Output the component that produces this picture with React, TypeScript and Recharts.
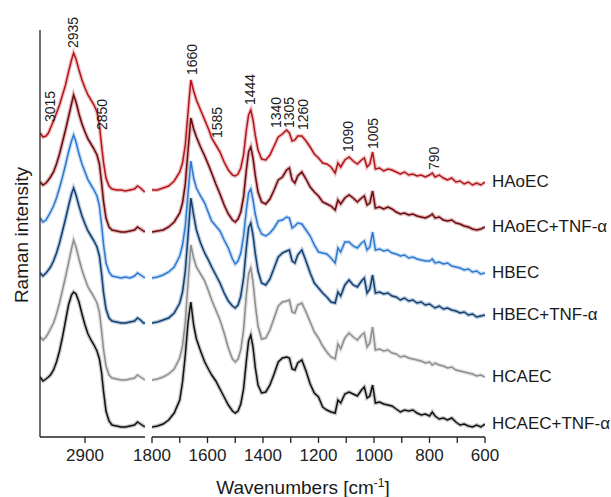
import React from 'react';
import { LineChart, Line, XAxis, YAxis, ReferenceDot } from 'recharts';

// wavenumbers [cm-1] for the two panels of the broken axis
const LEFT_WN = [3050, 3040, 3030, 3022, 3015, 3005, 2995, 2985, 2975, 2965, 2955, 2945, 2938, 2930, 2920, 2910, 2900, 2890, 2880, 2870, 2860, 2852, 2845, 2838, 2830, 2820, 2810, 2795, 2780, 2765, 2750, 2735, 2725, 2715, 2705, 2700];
const RIGHT_WN = [1800, 1780, 1760, 1740, 1720, 1700, 1690, 1680, 1670, 1660, 1650, 1640, 1625, 1610, 1595, 1585, 1570, 1555, 1540, 1525, 1510, 1500, 1490, 1480, 1470, 1460, 1452, 1444, 1436, 1428, 1418, 1405, 1390, 1375, 1360, 1345, 1330, 1315, 1305, 1295, 1285, 1275, 1260, 1245, 1230, 1215, 1200, 1185, 1170, 1155, 1140, 1130, 1120, 1105, 1090, 1075, 1060, 1045, 1035, 1025, 1015, 1005, 995, 980, 965, 950, 935, 920, 905, 890, 875, 860, 845, 830, 815, 800, 790, 780, 765, 750, 735, 720, 705, 690, 675, 660, 645, 630, 615, 600];

const SERIES_NAMES = ['HAoEC', 'HAoEC+TNF-α', 'HBEC', 'HBEC+TNF-α', 'HCAEC', 'HCAEC+TNF-α'];

// stacked intensities (a.u.)
const HAOEC_LEFT = [304, 300, 301, 304, 309, 316, 324, 332, 342, 352, 365, 377, 384, 378, 367, 357, 349, 342, 337, 332, 325, 312, 292, 274, 259, 251, 248, 247, 247, 246, 247, 248, 251, 249, 246, 245];
const HAOEC_TNF_LEFT = [255, 252, 254, 257, 260, 265, 273, 283, 295, 307, 320, 333, 342, 335, 323, 313, 305, 298, 293, 288, 282, 273, 255, 235, 219, 210, 207, 206, 205, 205, 206, 207, 210, 208, 206, 205];
const HBEC_LEFT = [219, 215, 217, 221, 225, 231, 239, 249, 260, 272, 285, 296, 302, 295, 283, 273, 265, 257, 252, 247, 241, 231, 213, 192, 174, 165, 161, 160, 159, 160, 159, 161, 164, 162, 160, 159];
const HBEC_TNF_LEFT = [164, 161, 164, 167, 170, 176, 184, 194, 206, 218, 231, 243, 249, 242, 231, 221, 213, 206, 201, 196, 190, 181, 164, 144, 128, 119, 116, 115, 114, 114, 115, 116, 119, 117, 114, 114];
const HCAEC_LEFT = [100, 97, 100, 104, 108, 114, 123, 134, 147, 160, 174, 188, 197, 190, 178, 167, 158, 150, 145, 140, 134, 125, 107, 87, 71, 62, 59, 58, 57, 57, 58, 59, 62, 60, 58, 57];
const HCAEC_TNF_LEFT = [60, 56, 58, 60, 62, 67, 75, 86, 100, 116, 132, 142, 145, 143, 135, 123, 112, 103, 97, 92, 86, 78, 65, 45, 26, 16, 12, 11, 10, 10, 11, 12, 15, 13, 11, 10];

const HAOEC_RIGHT = [247, 247, 249, 251, 256, 265, 274, 292, 325, 357, 346, 337, 327, 317, 307, 299, 292, 285, 275, 267, 262, 261, 263, 269, 282, 307, 322, 327, 317, 302, 287, 278, 277, 282, 291, 300, 303, 307, 304, 296, 297, 301, 301, 296, 290, 283, 279, 274, 273, 270, 264, 274, 270, 277, 280, 276, 273, 277, 279, 270, 273, 285, 268, 269, 266, 268, 267, 265, 263, 265, 262, 263, 261, 262, 260, 262, 264, 260, 262, 259, 257, 259, 255, 256, 253, 255, 252, 254, 252, 255];
const HAOEC_TNF_RIGHT = [205, 206, 207, 210, 215, 224, 234, 253, 287, 319, 308, 300, 290, 281, 271, 264, 253, 243, 232, 223, 217, 215, 218, 225, 240, 267, 285, 290, 279, 262, 245, 235, 233, 238, 247, 257, 260, 267, 269, 257, 254, 261, 265, 258, 250, 245, 241, 235, 233, 231, 227, 237, 233, 239, 242, 239, 235, 239, 241, 232, 234, 246, 229, 230, 228, 230, 228, 225, 223, 224, 222, 223, 221, 220, 219, 221, 223, 219, 220, 217, 216, 217, 214, 213, 211, 210, 208, 207, 208, 210];
const HBEC_RIGHT = [159, 160, 162, 165, 170, 181, 192, 211, 244, 276, 259, 249, 241, 234, 223, 216, 211, 206, 197, 189, 178, 173, 176, 184, 201, 227, 244, 248, 237, 223, 211, 203, 201, 204, 209, 216, 217, 220, 219, 209, 211, 214, 213, 207, 201, 192, 185, 184, 183, 179, 174, 189, 185, 195, 195, 191, 189, 194, 196, 187, 190, 205, 187, 188, 186, 187, 184, 183, 181, 182, 179, 180, 178, 177, 176, 176, 178, 174, 175, 173, 174, 171, 170, 169, 167, 168, 165, 166, 163, 164];
const HBEC_TNF_RIGHT = [114, 115, 117, 119, 124, 134, 145, 166, 202, 239, 222, 207, 194, 184, 176, 170, 162, 154, 144, 136, 131, 129, 132, 141, 159, 189, 209, 214, 202, 184, 166, 154, 152, 158, 169, 180, 184, 186, 187, 176, 174, 182, 187, 176, 164, 154, 149, 144, 140, 135, 134, 145, 141, 152, 157, 152, 150, 156, 159, 144, 148, 162, 144, 145, 143, 144, 141, 140, 137, 139, 136, 137, 134, 135, 132, 133, 131, 129, 131, 128, 129, 127, 126, 124, 125, 122, 123, 120, 121, 122];
const HCAEC_RIGHT = [57, 58, 60, 63, 68, 79, 91, 115, 155, 192, 179, 170, 163, 156, 145, 137, 127, 117, 104, 89, 78, 75, 78, 87, 107, 142, 163, 169, 155, 133, 111, 98, 99, 107, 119, 131, 135, 136, 137, 125, 124, 132, 134, 125, 115, 105, 99, 91, 85, 80, 78, 93, 88, 99, 104, 100, 97, 102, 104, 90, 94, 110, 87, 88, 86, 87, 84, 83, 80, 81, 79, 78, 77, 76, 74, 75, 72, 74, 72, 71, 69, 70, 67, 66, 65, 64, 63, 61, 62, 60];
const HCAEC_TNF_RIGHT = [10, 11, 13, 17, 24, 37, 55, 82, 115, 135, 112, 98, 86, 75, 67, 62, 56, 48, 40, 32, 26, 24, 26, 33, 48, 76, 96, 102, 90, 70, 52, 44, 45, 52, 63, 75, 79, 80, 79, 68, 67, 74, 77, 66, 53, 44, 40, 30, 27, 25, 24, 37, 34, 43, 45, 43, 41, 47, 50, 39, 41, 52, 34, 35, 33, 32, 31, 28, 25, 27, 26, 27, 24, 22, 23, 21, 25, 21, 18, 19, 17, 19, 15, 12, 13, 11, 10, 12, 10, 13];

const LEFT_VALUES = [HAOEC_LEFT, HAOEC_TNF_LEFT, HBEC_LEFT, HBEC_TNF_LEFT, HCAEC_LEFT, HCAEC_TNF_LEFT];
const RIGHT_VALUES = [HAOEC_RIGHT, HAOEC_TNF_RIGHT, HBEC_RIGHT, HBEC_TNF_RIGHT, HCAEC_RIGHT, HCAEC_TNF_RIGHT];

const LEFT_TICKS = [2900];
const RIGHT_TICKS = [1800, 1700, 1600, 1500, 1400, 1300, 1200, 1100, 1000, 900, 800, 700, 600];

const LEFT_PEAKS = ['3015', '2935', '2850'];
const RIGHT_PEAKS = ['1660', '1585', '1444', '1340', '1305', '1260', '1090', '1005', '790'];

// where each peak label sits: [wavenumber, intensity at the bottom of the text]
const LEFT_PEAK_AT = [[3015, 315], [2938, 389], [2843, 307]];
const RIGHT_PEAK_AT = [[1655, 362], [1565, 299], [1447, 332], [1353, 309], [1306, 309], [1256, 307], [1094, 285], [1004, 288], [782, 267]];

const COLORS = ['#b3141d', '#6e0a12', '#2f78d0', '#153f6e', '#8e8e8e', '#111111'];
const BANDS = ['#e49a9a', '#c48686', '#a3c6ee', '#86a6c8', '#cfcfcf', '#a0a0a0'];

const FONT = '"Liberation Sans", Arial, sans-serif';
const Y_DOMAIN = [0, 407];
const H = 497;
const MARGIN_TOP = 30;

function buildRows(wns: number[], values: number[][]) {
  return wns.map((wn, i) => {
    const row: any = { wn };
    values.forEach((arr, s) => {
      row['s' + s] = arr[i];
    });
    return row;
  });
}

const leftRows = buildRows(LEFT_WN, LEFT_VALUES);
const rightRows = buildRows(RIGHT_WN, RIGHT_VALUES);

const PeakText = (props: any) => {
  const { cx, cy, text } = props;
  if (cx == null || cy == null) return null;
  return (
    <text
      x={cx}
      y={cy}
      dy="0.35em"
      transform={`rotate(-90 ${cx} ${cy})`}
      fontSize={14}
      fontFamily={FONT}
      fill="#1a1a1a"
    >
      {text}
    </text>
  );
};

const SeriesLabel = (props: any) => {
  const { cx, cy, text } = props;
  if (cx == null || cy == null) return null;
  return (
    <text x={cx + 7} y={cy} dy="0.35em" fontSize={17} fontFamily={FONT} fill="#1a1a1a">
      {text}
    </text>
  );
};

function renderSeries() {
  const out: React.ReactNode[] = [];
  SERIES_NAMES.forEach((name, s) => {
    out.push(
      <Line
        key={'band' + s}
        dataKey={'s' + s}
        stroke={BANDS[s]}
        strokeWidth={4}
        strokeOpacity={0.6}
        dot={false}
        activeDot={false}
        isAnimationActive={false}
        type="linear"
      />
    );
    out.push(
      <Line
        key={'line' + s}
        dataKey={'s' + s}
        name={name}
        stroke={COLORS[s]}
        strokeWidth={1.5}
        dot={false}
        activeDot={false}
        isAnimationActive={false}
        type="linear"
      />
    );
  });
  return out;
}

const axisStroke = { stroke: '#222', strokeWidth: 1.3 };
const tickStyle = { fontSize: 17, fill: '#222', fontFamily: FONT };

export default function App() {
  return (
    <div style={{ position: 'absolute', left: 0, top: 0, width: 611, height: H, background: '#fff' }}>
      <div style={{ position: 'absolute', left: 0, top: 0 }}>
        <LineChart width={160} height={H} data={leftRows} margin={{ top: MARGIN_TOP, right: 15, bottom: 30, left: 0 }}>
          <XAxis
            dataKey="wn"
            type="number"
            domain={[2700, 3050]}
            reversed
            ticks={LEFT_TICKS}
            height={30}
            axisLine={axisStroke}
            tickLine={axisStroke}
            tickSize={6}
            tickMargin={6}
            tick={tickStyle}
            allowDataOverflow
          />
          <YAxis type="number" domain={Y_DOMAIN} width={40} tick={false} tickLine={false} axisLine={axisStroke} />
          {renderSeries()}
          {LEFT_PEAKS.map((t, i) => (
            <ReferenceDot
              key={t}
              x={LEFT_PEAK_AT[i][0]}
              y={LEFT_PEAK_AT[i][1]}
              r={0}
              shape={<PeakText text={t} />}
            />
          ))}
        </LineChart>
      </div>
      <div style={{ position: 'absolute', left: 100, top: 0 }}>
        <LineChart width={511} height={H} data={rightRows} margin={{ top: MARGIN_TOP, right: 126, bottom: 30, left: 52 }}>
          <XAxis
            dataKey="wn"
            type="number"
            domain={[600, 1800]}
            reversed
            ticks={RIGHT_TICKS}
            interval={0}
            tickFormatter={(v: number) => (v % 200 === 0 ? String(v) : '')}
            height={30}
            axisLine={axisStroke}
            tickLine={axisStroke}
            tickSize={6}
            tickMargin={6}
            tick={tickStyle}
            allowDataOverflow
          />
          <YAxis type="number" domain={Y_DOMAIN} hide />
          {renderSeries()}
          {RIGHT_PEAKS.map((t, i) => (
            <ReferenceDot
              key={t}
              x={RIGHT_PEAK_AT[i][0]}
              y={RIGHT_PEAK_AT[i][1]}
              r={0}
              shape={<PeakText text={t} />}
            />
          ))}
          {SERIES_NAMES.map((name, s) => (
            <ReferenceDot
              key={name}
              x={RIGHT_WN[RIGHT_WN.length - 1]}
              y={RIGHT_VALUES[s][RIGHT_VALUES[s].length - 1] + 1}
              r={0}
              shape={<SeriesLabel text={name} />}
            />
          ))}
        </LineChart>
      </div>
      <svg width={611} height={H} style={{ position: 'absolute', left: 0, top: 0, pointerEvents: 'none' }}>
        <text
          x={21}
          y={235}
          dy="0.35em"
          textAnchor="middle"
          transform="rotate(-90 21 235)"
          fontSize={19}
          fontFamily={FONT}
          fill="#1a1a1a"
        >
          Raman intensity
        </text>
        <text x={303} y={494} textAnchor="middle" fontSize={19} fontFamily={FONT} fill="#1a1a1a">
          Wavenumbers [cm
          <tspan dy={-7} fontSize={12}>-1</tspan>
          <tspan dy={7}>]</tspan>
        </text>
      </svg>
    </div>
  );
}
